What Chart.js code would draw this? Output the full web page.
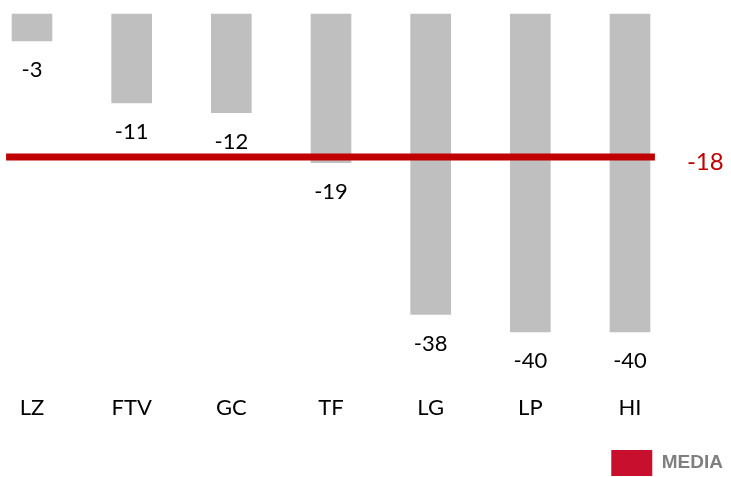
<!DOCTYPE html>
<html>
<head>
    <title>Media chart</title>
    <script src="https://cdn.jsdelivr.net/npm/chart.js"></script>
    <style>
        body { margin: 0; padding: 0; background: #fff; }
        .chart-container { width: 731px; height: 477px; }
    </style>
</head>
<body>
    <div class="chart-container">
        <canvas id="mediaChart"></canvas>
    </div>

    <script>
        // Data (labels shown rounded)
        const categories = ['LZ', 'FTV', 'GC', 'TF', 'LG', 'LP', 'HI'];
        const values = [-3.4, -11.2, -12.4, -18.7, -37.8, -40, -40];
        const media = -18;
        const mediaLabel = 'MEDIA';

        const labelFont = '22px Lato, "Open Sans", sans-serif';

        // Draws the average line, its value and the bar value labels
        const overlayPlugin = {
            id: 'overlay',
            afterDatasetsDraw(chart) {
                const ctx = chart.ctx;
                const x = chart.scales.x;
                const y = chart.scales.y;
                const step = x.getPixelForValue(1) - x.getPixelForValue(0);

                // value labels under each bar
                const meta = chart.getDatasetMeta(0);
                ctx.save();
                ctx.font = labelFont;
                ctx.fillStyle = '#000';
                ctx.textAlign = 'center';
                ctx.textBaseline = 'middle';
                meta.data.forEach((bar, i) => {
                    ctx.fillText(String(Math.round(values[i])), bar.x, bar.y + 29);
                });

                // average line
                const yy = y.getPixelForValue(media);
                const x0 = x.getPixelForValue(0) - step * 0.26;
                const x1 = x.getPixelForValue(categories.length - 1) + step * 0.25;
                ctx.strokeStyle = '#C00000';
                ctx.lineWidth = 7;
                ctx.beginPath();
                ctx.moveTo(x0, yy);
                ctx.lineTo(x1, yy);
                ctx.stroke();

                ctx.font = '24px Lato, "Open Sans", sans-serif';
                ctx.fillStyle = '#C00000';
                ctx.textAlign = 'left';
                ctx.fillText(String(media), x1 + 32, yy + 5);
                ctx.restore();
            }
        };

        const ctx = document.getElementById('mediaChart').getContext('2d');
        const chart = new Chart(ctx, {
            type: 'bar',
            data: {
                labels: categories,
                datasets: [{
                    label: 'valori',
                    data: values,
                    backgroundColor: '#BFBFBF',
                    barThickness: 40,
                    clip: false
                }]
            },
            options: {
                responsive: true,
                maintainAspectRatio: false,
                animation: false,
                layout: {
                    padding: { top: 14, left: 0, right: 8, bottom: -9 }
                },
                scales: {
                    x: {
                        offset: false,
                        grid: { display: false, drawTicks: false },
                        border: { display: false },
                        ticks: {
                            color: '#000',
                            font: { family: 'Lato, "Open Sans", sans-serif', size: 22 },
                            padding: 63,
                            maxRotation: 0
                        },
                        afterFit: (s) => {
                            s.height = 118;
                            s.paddingLeft = 0;
                            s.paddingRight = 0;
                        }
                    },
                    y: {
                        position: 'left',
                        min: -40,
                        max: 0,
                        grid: { display: false },
                        border: { display: false },
                        ticks: { display: false },
                        afterFit: (s) => { s.width = 32; }
                    },
                    y2: {
                        position: 'right',
                        grid: { display: false },
                        border: { display: false },
                        ticks: { display: false },
                        afterFit: (s) => { s.width = 93; }
                    }
                },
                plugins: {
                    tooltip: { enabled: false },
                    legend: {
                        position: 'bottom',
                        align: 'end',
                        labels: {
                            boxWidth: 41,
                            boxHeight: 26,
                            padding: 0,
                            color: '#7F7F7F',
                            font: { family: '"Liberation Sans", Arial, sans-serif', size: 19, weight: 'bold' },
                            generateLabels: () => [{
                                text: mediaLabel,
                                fillStyle: '#C8102E',
                                strokeStyle: '#C8102E',
                                fontColor: '#7F7F7F',
                                lineWidth: 0,
                                datasetIndex: 0
                            }]
                        }
                    }
                }
            },
            plugins: [overlayPlugin]
        });
    </script>
</body>
</html>
